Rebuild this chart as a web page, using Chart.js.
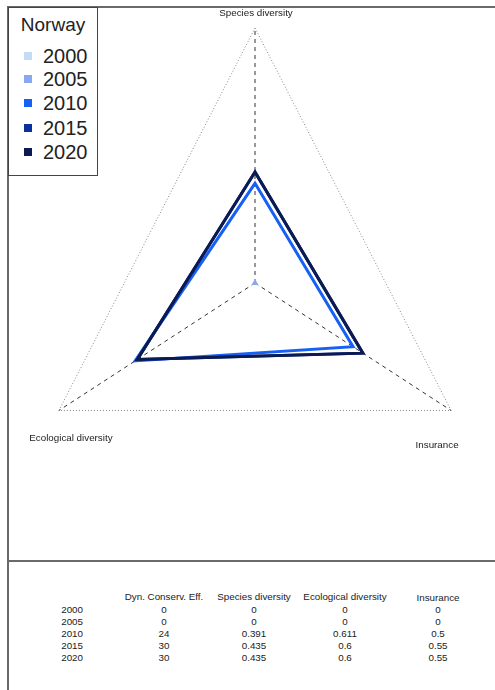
<!DOCTYPE html>
<html>
<head>
<meta charset="utf-8">
<title>Norway radar</title>
<script src="https://cdn.jsdelivr.net/npm/chart.js@4.4.1/dist/chart.umd.min.js"></script>
<style>
    body { margin: 0; overflow: hidden; background: #fff; }
    #page {
        position: relative; width: 495px; height: 690px; overflow: hidden;
        font-family: "Liberation Sans", Arial, sans-serif; color: #222;
    }
    #chartBox { position: absolute; left: 0; top: 0; width: 520px; height: 560px; }
    .rule { position: absolute; background: #6a6a6a; }
    #legend {
        position: absolute; left: 8px; top: 7px; width: 88px; height: 167px;
        border: 1px solid #444; background: #fff;
    }
    #legend .title { position: absolute; left: 0; width: 88px; top: 6px; text-align: center; font-size: 19px; line-height: 22px; }
    #legend .item { position: absolute; left: 0; font-size: 20px; line-height: 22px; }
    #legend .swatch { position: absolute; left: 15px; top: 7px; width: 8px; height: 8px; }
    #legend .text { position: absolute; left: 34px; top: 0; }
    .cell { position: absolute; font-size: 9.8px; line-height: 12px; white-space: nowrap; transform: translate(-50%, -50%); }
    .cell.rowname { transform: translate(-100%, -50%); }
</style>
</head>
<body>
<div id="page">
    <div id="chartBox"><canvas id="radar"></canvas></div>
    <div class="rule" style="left:7px; top:6px; width:2px; height:684px;"></div>
    <div class="rule" style="left:7px; top:6px; width:488px; height:2px;"></div>
    <div class="rule" style="left:7px; top:560px; width:488px; height:2px;"></div>
    <div id="legend"><div class="title">Norway</div></div>
    <div id="table"></div>
</div>
<script>
const years = ['2000', '2005', '2010', '2015', '2020'];
const dynConservEff = [0, 0, 24, 30, 30];
const speciesDiversity = [0, 0, 0.391, 0.435, 0.435];
const ecologicalDiversity = [0, 0, 0.611, 0.6, 0.6];
const insurance = [0, 0, 0.5, 0.55, 0.55];
const yearColors = ['#c3dbf5', '#8ca7f1', '#1760f4', '#0a309c', '#0b1a50'];

// Radar axes, clockwise from the top
const axisLabels = ['Species diversity', 'Insurance', 'Ecological diversity'];
const axisSeries = [speciesDiversity, insurance, ecologicalDiversity];

// Table columns
const tableHeaders = ['Dyn. Conserv. Eff.', 'Species diversity', 'Ecological diversity', 'Insurance'];
const tableColumns = [dynConservEff, speciesDiversity, ecologicalDiversity, insurance];

// The original web is wider than tall, squeeze x distances from the centre
const X_SQUEEZE = 0.888;
const radialScale = Chart.registry.getScale('radialLinear');
const basePointPosition = radialScale.prototype.getPointPosition;
radialScale.prototype.getPointPosition = function(index, distance, extra) {
    const p = basePointPosition.call(this, index, distance, extra);
    p.x = this.xCenter + (p.x - this.xCenter) * X_SQUEEZE;
    return p;
};

// Axis names sit below / above the web corners
const labelNudge = [[1, -15], [-14, 35], [12, 28]];
const axisTitles = {
    id: 'axisTitles',
    afterDraw(chart) {
        const scale = chart.scales.r;
        const ctx = chart.ctx;
        ctx.save();
        ctx.font = '9.8px "Liberation Sans", Arial, sans-serif';
        ctx.fillStyle = '#222';
        ctx.textAlign = 'center';
        ctx.textBaseline = 'middle';
        axisLabels.forEach((label, i) => {
            const p = scale.getPointPosition(i, scale.drawingArea);
            ctx.fillText(label, p.x + labelNudge[i][0], p.y + labelNudge[i][1]);
        });
        ctx.restore();
    }
};

const datasets = years.map((year, i) => ({
    label: year,
    data: axisSeries.map(series => series[i]),
    borderColor: yearColors[i],
    backgroundColor: yearColors[i],
    borderWidth: i < 2 ? 2 : 3,
    fill: false,
    pointRadius: i < 2 ? 1.5 : 0,
    pointStyle: 'triangle',
    order: years.length - i
}));

new Chart(document.getElementById('radar'), {
    type: 'radar',
    data: { labels: axisLabels, datasets: datasets },
    options: {
        responsive: true,
        maintainAspectRatio: false,
        animation: false,
        layout: { padding: { left: 0, right: 10, top: 28, bottom: 22 } },
        plugins: { legend: { display: false }, tooltip: { enabled: false } },
        elements: { line: { tension: 0, borderJoinStyle: 'miter' } },
        scales: {
            r: {
                min: 0,
                max: 1,
                ticks: { display: false, stepSize: 1 },
                pointLabels: { display: false },
                grid: { color: '#8a8a8a', lineWidth: 1 },
                border: { dash: [1, 2] },
                angleLines: { color: '#333', lineWidth: 1, borderDash: [4, 4] }
            }
        }
    },
    plugins: [axisTitles]
});

// Legend box
const legend = document.getElementById('legend');
const legendRows = [37, 60, 84, 109, 133];
years.forEach((year, i) => {
    const item = document.createElement('div');
    item.className = 'item';
    item.style.top = legendRows[i] + 'px';
    item.innerHTML = '<div class="swatch" style="background:' + yearColors[i] + '"></div><div class="text">' + year + '</div>';
    legend.appendChild(item);
});

// Value table under the chart
const table = document.getElementById('table');
const colX = [164, 254, 345, 438];
const rowY = [610, 622, 634, 646, 658];
function addCell(text, x, y, cls) {
    const d = document.createElement('div');
    d.className = 'cell' + (cls ? ' ' + cls : '');
    d.style.left = x + 'px';
    d.style.top = y + 'px';
    d.textContent = text;
    table.appendChild(d);
}
tableHeaders.forEach((h, c) => addCell(h, colX[c], c === 3 ? 598 : 597));
years.forEach((year, r) => {
    addCell(year, 83, rowY[r], 'rowname');
    tableColumns.forEach((col, c) => addCell(String(col[r]), colX[c], rowY[r]));
});
</script>
</body>
</html>
